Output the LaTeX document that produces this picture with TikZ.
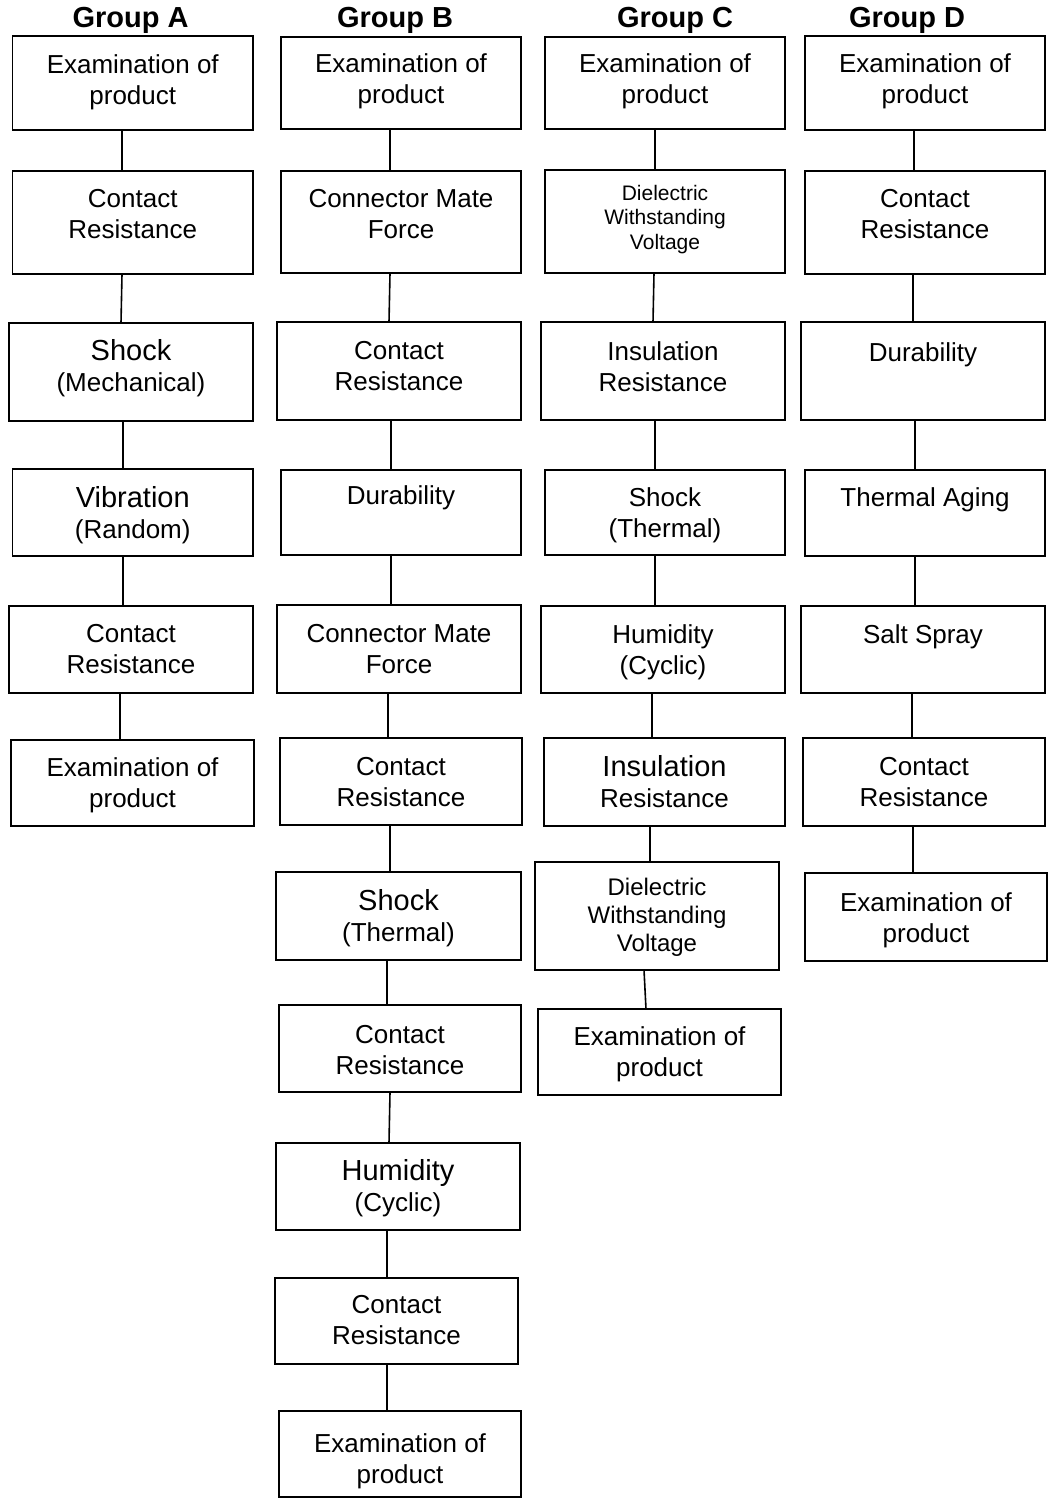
\documentclass[tikz,border=0pt]{standalone}
\usepackage{fontspec}
\setmainfont{Liberation Sans}
\newcommand\bx[8][]{%
  \node[boxst, minimum width={#5-#3}, minimum height={#6-#4}] (#2) at ({(#3+#5)/2},{-(#4+#6)/2}) {};
  \node[txt,#1] (#2t) at ({(#3+#5)/2},{-#7}) {#8};
}
\newcommand\cn[4]{\draw[ln] (#1.south -| #3,0) -- (#2.north -| #4,0);}
\newcommand\lgtxt[1]{{\fontsize{29}{32}\selectfont #1}}
\begin{document}
\begin{tikzpicture}[x=1pt,y=1pt,
  boxst/.style={draw=black, line width=1.8pt, inner sep=0pt, outer sep=0pt},
  txt/.style={inner sep=0pt, anchor=north, align=center, font=\fontsize{26}{31}\selectfont},
  hdr/.style={inner sep=0pt, anchor=base, font=\fontsize{29}{32}\selectfont\bfseries},
  ln/.style={line width=1.6pt}]
\useasboundingbox (0,0) rectangle (1050,-1506);
\fill[white] (0,0) rectangle (1050,-1506);
% headers
\node[hdr] (hA) at (130.5,-28) {Group A};
\node[hdr] (hB) at (395,-28) {Group B};
\node[hdr] (hC) at (675,-28) {Group C};
\node[hdr] (hD) at (907,-28) {Group D};
% Group A
\bx{a1}{12.5}{36}{253}{130}{54}{Examination of\\product}
\bx{a2}{12.5}{171}{253}{274}{189}{Contact\\Resistance}
\bx{a3}{9}{323}{253}{421}{339}{\lgtxt{Shock}\\(Mechanical)}
\bx{a4}{12.5}{469}{253}{556}{486}{\lgtxt{Vibration}\\(Random)}
\bx{a5}{9}{606}{253}{693}{624}{Contact\\Resistance}
\bx{a6}{11}{740}{254}{826}{757}{Examination of\\product}
\cn{a1}{a2}{122}{122}
\cn{a2}{a3}{122}{121}
\cn{a3}{a4}{123}{123}
\cn{a4}{a5}{123}{123}
\cn{a5}{a6}{120}{120}
% Group B
\bx{b1}{281}{37}{521}{129}{53}{Examination of\\product}
\bx{b2}{281}{171}{521}{273}{189}{Connector Mate\\Force}
\bx{b3}{277}{322}{521}{420}{341}{Contact\\Resistance}
\bx{b4}{281}{470}{521}{555}{485}{Durability}
\bx{b5}{277}{605}{521}{693}{624}{Connector Mate\\Force}
\bx{b6}{280}{738}{522}{825}{757}{Contact\\Resistance}
\bx{b7}{276}{872}{521}{960}{889}{\lgtxt{Shock}\\(Thermal)}
\bx{b8}{279}{1005}{521}{1092}{1025}{Contact\\Resistance}
\bx{b9}{276}{1143}{520}{1230}{1159}{\lgtxt{Humidity}\\(Cyclic)}
\bx{b10}{275}{1278}{518}{1364}{1295}{Contact\\Resistance}
\bx{b11}{279}{1411}{521}{1497}{1433}{Examination of\\product}
\cn{b1}{b2}{390}{390}
\cn{b2}{b3}{390}{389}
\cn{b3}{b4}{391}{391}
\cn{b4}{b5}{391}{391}
\cn{b5}{b6}{388}{388}
\cn{b6}{b7}{390}{390}
\cn{b7}{b8}{387}{387}
\cn{b8}{b9}{390}{389}
\cn{b9}{b10}{387}{387}
\cn{b10}{b11}{387}{387}
% Group C
\bx{c1}{545}{37}{785}{129}{53}{Examination of\\product}
\bx[font=\fontsize{21}{24.5}\selectfont]{c2}{545}{170}{785}{273}{185}{Dielectric\\Withstanding\\Voltage}
\bx{c3}{541}{322}{785}{420}{341}{Insulation\\Resistance}
\bx{c4}{545}{470}{785}{555}{487}{Shock\\(Thermal)}
\bx{c5}{541}{606}{785}{693}{624}{Humidity\\(Cyclic)}
\bx{c6}{544}{738}{785}{826}{755}{\lgtxt{Insulation}\\Resistance}
\bx[font=\fontsize{24}{28}\selectfont]{c7}{535}{862}{779}{970}{878}{Dielectric\\Withstanding\\Voltage}
\bx{c8}{538}{1009}{781}{1095}{1026}{Examination of\\product}
\cn{c1}{c2}{655}{655}
\cn{c2}{c3}{654}{653}
\cn{c3}{c4}{655}{655}
\cn{c4}{c5}{655}{655}
\cn{c5}{c6}{652}{652}
\cn{c6}{c7}{650}{650}
\cn{c7}{c8}{644}{646}
% Group D
\bx{d1}{805}{36}{1045}{130}{53}{Examination of\\product}
\bx{d2}{805}{171}{1045}{274}{189}{Contact\\Resistance}
\bx{d3}{801}{322}{1045}{420}{342}{Durability}
\bx{d4}{805}{470}{1045}{556}{487}{Thermal Aging}
\bx{d5}{801}{606}{1045}{693}{624}{Salt Spray}
\bx{d6}{803}{738}{1045}{826}{757}{Contact\\Resistance}
\bx{d7}{805}{873}{1047}{961}{892}{Examination of\\product}
\cn{d1}{d2}{914}{914}
\cn{d2}{d3}{913}{913}
\cn{d3}{d4}{915}{915}
\cn{d4}{d5}{915}{915}
\cn{d5}{d6}{912}{912}
\cn{d6}{d7}{913}{913}
\end{tikzpicture}
\end{document}
